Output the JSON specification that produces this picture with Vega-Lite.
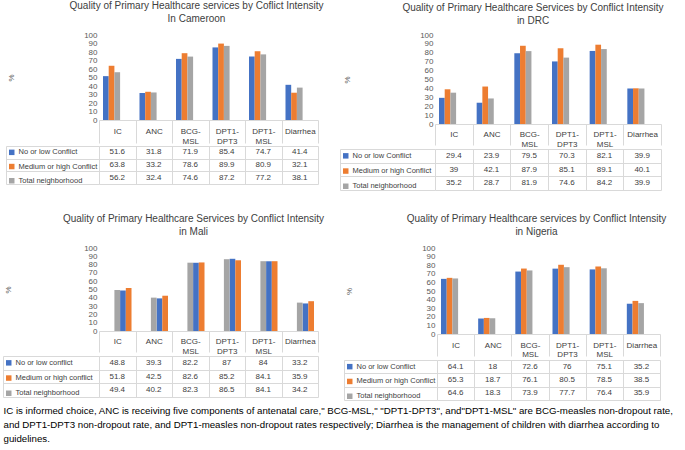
{
  "$schema": "https://vega.github.io/schema/vega-lite/v6.json",
  "background": "white",
  "padding": {"left": 2, "top": 1, "right": 0, "bottom": 0},
  "config": {
    "view": {"stroke": null},
    "font": "Liberation Sans Narrow, Liberation Sans, Arial, sans-serif",
    "title": {"fontWeight": "normal", "color": "#404040"}
  },
  "datasets": {
    "d": [
      {"country": "Cameroon", "category": "IC", "series": "No or low Conflict", "value": 51.6},
      {"country": "Cameroon", "category": "ANC", "series": "No or low Conflict", "value": 31.8},
      {"country": "Cameroon", "category": "BCG-MSL", "series": "No or low Conflict", "value": 71.9},
      {"country": "Cameroon", "category": "DPT1-DPT3", "series": "No or low Conflict", "value": 85.4},
      {"country": "Cameroon", "category": "DPT1-MSL", "series": "No or low Conflict", "value": 74.7},
      {"country": "Cameroon", "category": "Diarrhea", "series": "No or low Conflict", "value": 41.4},
      {"country": "Cameroon", "category": "IC", "series": "Medium or high Conflict", "value": 63.8},
      {"country": "Cameroon", "category": "ANC", "series": "Medium or high Conflict", "value": 33.2},
      {"country": "Cameroon", "category": "BCG-MSL", "series": "Medium or high Conflict", "value": 78.6},
      {"country": "Cameroon", "category": "DPT1-DPT3", "series": "Medium or high Conflict", "value": 89.9},
      {"country": "Cameroon", "category": "DPT1-MSL", "series": "Medium or high Conflict", "value": 80.9},
      {"country": "Cameroon", "category": "Diarrhea", "series": "Medium or high Conflict", "value": 32.1},
      {"country": "Cameroon", "category": "IC", "series": "Total neighborhood", "value": 56.2},
      {"country": "Cameroon", "category": "ANC", "series": "Total neighborhood", "value": 32.4},
      {"country": "Cameroon", "category": "BCG-MSL", "series": "Total neighborhood", "value": 74.6},
      {"country": "Cameroon", "category": "DPT1-DPT3", "series": "Total neighborhood", "value": 87.2},
      {"country": "Cameroon", "category": "DPT1-MSL", "series": "Total neighborhood", "value": 77.2},
      {"country": "Cameroon", "category": "Diarrhea", "series": "Total neighborhood", "value": 38.1},
      {"country": "DRC", "category": "IC", "series": "No or low Conflict", "value": 29.4},
      {"country": "DRC", "category": "ANC", "series": "No or low Conflict", "value": 23.9},
      {"country": "DRC", "category": "BCG-MSL", "series": "No or low Conflict", "value": 79.5},
      {"country": "DRC", "category": "DPT1-DPT3", "series": "No or low Conflict", "value": 70.3},
      {"country": "DRC", "category": "DPT1-MSL", "series": "No or low Conflict", "value": 82.1},
      {"country": "DRC", "category": "Diarrhea", "series": "No or low Conflict", "value": 39.9},
      {"country": "DRC", "category": "IC", "series": "Medium or high Conflict", "value": 39},
      {"country": "DRC", "category": "ANC", "series": "Medium or high Conflict", "value": 42.1},
      {"country": "DRC", "category": "BCG-MSL", "series": "Medium or high Conflict", "value": 87.9},
      {"country": "DRC", "category": "DPT1-DPT3", "series": "Medium or high Conflict", "value": 85.1},
      {"country": "DRC", "category": "DPT1-MSL", "series": "Medium or high Conflict", "value": 89.1},
      {"country": "DRC", "category": "Diarrhea", "series": "Medium or high Conflict", "value": 40.1},
      {"country": "DRC", "category": "IC", "series": "Total neighborhood", "value": 35.2},
      {"country": "DRC", "category": "ANC", "series": "Total neighborhood", "value": 28.7},
      {"country": "DRC", "category": "BCG-MSL", "series": "Total neighborhood", "value": 81.9},
      {"country": "DRC", "category": "DPT1-DPT3", "series": "Total neighborhood", "value": 74.6},
      {"country": "DRC", "category": "DPT1-MSL", "series": "Total neighborhood", "value": 84.2},
      {"country": "DRC", "category": "Diarrhea", "series": "Total neighborhood", "value": 39.9},
      {"country": "Mali", "category": "IC", "series": "No or low conflict", "value": 48.8},
      {"country": "Mali", "category": "ANC", "series": "No or low conflict", "value": 39.3},
      {"country": "Mali", "category": "BCG-MSL", "series": "No or low conflict", "value": 82.2},
      {"country": "Mali", "category": "DPT1-DPT3", "series": "No or low conflict", "value": 87},
      {"country": "Mali", "category": "DPT1-MSL", "series": "No or low conflict", "value": 84},
      {"country": "Mali", "category": "Diarrhea", "series": "No or low conflict", "value": 33.2},
      {"country": "Mali", "category": "IC", "series": "Medium or high conflict", "value": 51.8},
      {"country": "Mali", "category": "ANC", "series": "Medium or high conflict", "value": 42.5},
      {"country": "Mali", "category": "BCG-MSL", "series": "Medium or high conflict", "value": 82.6},
      {"country": "Mali", "category": "DPT1-DPT3", "series": "Medium or high conflict", "value": 85.2},
      {"country": "Mali", "category": "DPT1-MSL", "series": "Medium or high conflict", "value": 84.1},
      {"country": "Mali", "category": "Diarrhea", "series": "Medium or high conflict", "value": 35.9},
      {"country": "Mali", "category": "IC", "series": "Total neighborhood", "value": 49.4},
      {"country": "Mali", "category": "ANC", "series": "Total neighborhood", "value": 40.2},
      {"country": "Mali", "category": "BCG-MSL", "series": "Total neighborhood", "value": 82.3},
      {"country": "Mali", "category": "DPT1-DPT3", "series": "Total neighborhood", "value": 86.5},
      {"country": "Mali", "category": "DPT1-MSL", "series": "Total neighborhood", "value": 84.1},
      {"country": "Mali", "category": "Diarrhea", "series": "Total neighborhood", "value": 34.2},
      {"country": "Nigeria", "category": "IC", "series": "No or low Conflict", "value": 64.1},
      {"country": "Nigeria", "category": "ANC", "series": "No or low Conflict", "value": 18},
      {"country": "Nigeria", "category": "BCG-MSL", "series": "No or low Conflict", "value": 72.6},
      {"country": "Nigeria", "category": "DPT1-DPT3", "series": "No or low Conflict", "value": 76},
      {"country": "Nigeria", "category": "DPT1-MSL", "series": "No or low Conflict", "value": 75.1},
      {"country": "Nigeria", "category": "Diarrhea", "series": "No or low Conflict", "value": 35.2},
      {"country": "Nigeria", "category": "IC", "series": "Medium or high Conflict", "value": 65.3},
      {"country": "Nigeria", "category": "ANC", "series": "Medium or high Conflict", "value": 18.7},
      {"country": "Nigeria", "category": "BCG-MSL", "series": "Medium or high Conflict", "value": 76.1},
      {"country": "Nigeria", "category": "DPT1-DPT3", "series": "Medium or high Conflict", "value": 80.5},
      {"country": "Nigeria", "category": "DPT1-MSL", "series": "Medium or high Conflict", "value": 78.5},
      {"country": "Nigeria", "category": "Diarrhea", "series": "Medium or high Conflict", "value": 38.5},
      {"country": "Nigeria", "category": "IC", "series": "Total neighborhood", "value": 64.6},
      {"country": "Nigeria", "category": "ANC", "series": "Total neighborhood", "value": 18.3},
      {"country": "Nigeria", "category": "BCG-MSL", "series": "Total neighborhood", "value": 73.9},
      {"country": "Nigeria", "category": "DPT1-DPT3", "series": "Total neighborhood", "value": 77.7},
      {"country": "Nigeria", "category": "DPT1-MSL", "series": "Total neighborhood", "value": 76.4},
      {"country": "Nigeria", "category": "Diarrhea", "series": "Total neighborhood", "value": 35.9}
    ]
  },
  "title": {
    "text": [
      "IC is informed choice, ANC is receiving five components of antenatal care,\" BCG-MSL,\" \"DPT1-DPT3\", and\"DPT1-MSL\" are BCG-measles non-dropout rate,",
      "and DPT1-DPT3 non-dropout rate,  and DPT1-measles non-dropout rates respectively; Diarrhea is the management of children with diarrhea according to",
      "guidelines."
    ],
    "orient": "bottom", "anchor": "start", "fontSize": 9.7, "lineHeight": 14, "offset": 5, "dx": 1, "color": "#000000"
  },
  "spacing": 23,
  "resolve": {"scale": {"color": "independent"}},
  "vconcat": [
    {
      "hconcat": [
        {
          "spacing": 0,
          "resolve": {"scale": {"color": "independent"}},
          "vconcat": [
            {
              "width": 219, "height": 85,
              "data": {"name": "d"},
              "transform": [{"filter": "datum.country == 'Cameroon'"}],
              "title": {"text": ["Quality of Primary  Healthcare services by Coflict Intensity", "In Cameroon"], "frame": "group", "anchor": "middle", "dx": -12, "fontSize": 10, "lineHeight": 13, "offset": 7},
              "mark": {"type": "bar"},
              "encoding": {
                "x": {"field": "category", "type": "nominal", "sort": null, "scale": {"paddingInner": 0, "paddingOuter": 0},
                  "axis": {"title": null, "labelAngle": 0, "tickBand": "extent", "tickSize": 23, "tickColor": "#d9d9d9", "domainColor": "#d9d9d9", "labelPadding": -11.5, "labelBaseline": "middle", "labelFontSize": 8, "labelColor": "#404040", "labelLineHeight": 9.5, "labelOverlap": false, "labelExpr": "indexof(datum.label,'-') > 0 ? [substring(datum.label,0,indexof(datum.label,'-')+1), substring(datum.label,indexof(datum.label,'-')+1)] : datum.label"}},
                "xOffset": {"field": "series", "sort": null, "scale": {"paddingInner": 0, "paddingOuter": 0.7}},
                "y": {"field": "value", "type": "quantitative", "scale": {"domain": [0, 100], "nice": false},
                  "axis": {"title": "%", "titleFontSize": 8, "titleFontWeight": "normal", "titleColor": "#595959", "titlePadding": 68, "values": [0,10,20,30,40,50,60,70,80,90,100], "domain": false, "ticks": false, "grid": false, "labelPadding": 2, "labelFontSize": 8, "labelColor": "#595959"}},
                "color": {"field": "series", "sort": null, "scale": {"range": ["#4472C4", "#ED7D31", "#A5A5A5"]}, "legend": null}
              }
            },
            {
              "width": 219, "height": 38,
              "data": {"name": "d"},
              "transform": [{"filter": "datum.country == 'Cameroon'"}],
              "encoding": {
                "x": {"field": "category", "type": "nominal", "sort": null, "scale": {"paddingInner": 0, "paddingOuter": 0},
                  "axis": {"title": null, "tickBand": "extent", "grid": true, "gridColor": "#d9d9d9", "labels": false, "ticks": false, "domain": false}},
                "y": {"field": "series", "type": "nominal", "sort": null, "scale": {"paddingInner": 0, "paddingOuter": 0},
                  "axis": {"title": null, "tickBand": "extent", "grid": true, "gridColor": "#d9d9d9", "labels": false, "ticks": true, "tickSize": -93, "tickColor": "#d9d9d9", "domain": true, "domainColor": "#d9d9d9", "offset": 93}}
              },
              "layer": [
                {"mark": {"type": "text", "fontSize": 8, "color": "#404040"}, "encoding": {"text": {"field": "value", "type": "quantitative"}}},
                {"mark": {"type": "square", "opacity": 0}, "encoding": {"color": {"field": "series", "sort": null, "scale": {"range": ["#4472C4", "#ED7D31", "#A5A5A5"]},
                  "legend": {"orient": "none", "legendX": -91, "legendY": 2.6, "title": null, "symbolType": "square", "symbolSize": 30, "symbolOpacity": 1, "symbolStrokeWidth": 0, "labelFontSize": 7.5, "labelColor": "#404040", "rowPadding": 5.2, "labelOffset": 3, "padding": 0, "labelLimit": 200}}}}
              ]
            }
          ]
        },
        {
          "spacing": 0,
          "resolve": {"scale": {"color": "independent"}},
          "vconcat": [
            {
              "width": 226, "height": 89,
              "data": {"name": "d"},
              "transform": [{"filter": "datum.country == 'DRC'"}],
              "title": {"text": ["Quality of Primary  Healthcare Services by Conflict Intensity", "in DRC"], "frame": "group", "anchor": "middle", "dx": -15, "fontSize": 10, "lineHeight": 13, "offset": 5},
              "mark": {"type": "bar"},
              "encoding": {
                "x": {"field": "category", "type": "nominal", "sort": null, "scale": {"paddingInner": 0, "paddingOuter": 0},
                  "axis": {"title": null, "labelAngle": 0, "tickBand": "extent", "tickSize": 21, "tickColor": "#d9d9d9", "domainColor": "#d9d9d9", "labelPadding": -10.5, "labelBaseline": "middle", "labelFontSize": 8, "labelColor": "#404040", "labelLineHeight": 9.5, "labelOverlap": false, "labelExpr": "indexof(datum.label,'-') > 0 ? [substring(datum.label,0,indexof(datum.label,'-')+1), substring(datum.label,indexof(datum.label,'-')+1)] : datum.label"}},
                "xOffset": {"field": "series", "sort": null, "scale": {"paddingInner": 0, "paddingOuter": 0.7}},
                "y": {"field": "value", "type": "quantitative", "scale": {"domain": [0, 100], "nice": false},
                  "axis": {"title": "%", "titleFontSize": 8, "titleFontWeight": "normal", "titleColor": "#595959", "titlePadding": 68, "values": [0,10,20,30,40,50,60,70,80,90,100], "domain": false, "ticks": false, "grid": false, "labelPadding": 2, "labelFontSize": 8, "labelColor": "#595959"}},
                "color": {"field": "series", "sort": null, "scale": {"range": ["#4472C4", "#ED7D31", "#A5A5A5"]}, "legend": null}
              }
            },
            {
              "width": 226, "height": 41,
              "data": {"name": "d"},
              "transform": [{"filter": "datum.country == 'DRC'"}],
              "encoding": {
                "x": {"field": "category", "type": "nominal", "sort": null, "scale": {"paddingInner": 0, "paddingOuter": 0},
                  "axis": {"title": null, "tickBand": "extent", "grid": true, "gridColor": "#d9d9d9", "labels": false, "ticks": false, "domain": false}},
                "y": {"field": "series", "type": "nominal", "sort": null, "scale": {"paddingInner": 0, "paddingOuter": 0},
                  "axis": {"title": null, "tickBand": "extent", "grid": true, "gridColor": "#d9d9d9", "labels": false, "ticks": true, "tickSize": -95, "tickColor": "#d9d9d9", "domain": true, "domainColor": "#d9d9d9", "offset": 95}}
              },
              "layer": [
                {"mark": {"type": "text", "fontSize": 8, "color": "#404040"}, "encoding": {"text": {"field": "value", "type": "quantitative"}}},
                {"mark": {"type": "square", "opacity": 0}, "encoding": {"color": {"field": "series", "sort": null, "scale": {"range": ["#4472C4", "#ED7D31", "#A5A5A5"]},
                  "legend": {"orient": "none", "legendX": -93, "legendY": 3.1, "title": null, "symbolType": "square", "symbolSize": 30, "symbolOpacity": 1, "symbolStrokeWidth": 0, "labelFontSize": 7.5, "labelColor": "#404040", "rowPadding": 6.2, "labelOffset": 3, "padding": 0, "labelLimit": 200}}}}
              ]
            }
          ]
        }
      ],
      "spacing": 14,
      "resolve": {"scale": {"color": "independent"}}
    },
    {
      "hconcat": [
        {
          "spacing": 0,
          "resolve": {"scale": {"color": "independent"}},
          "vconcat": [
            {
              "width": 219, "height": 83,
              "data": {"name": "d"},
              "transform": [{"filter": "datum.country == 'Mali'"}],
              "title": {"text": ["Quality of Primary  Healthcare Services by Conflict Intensity", "in Mali"], "frame": "group", "anchor": "middle", "dx": -15, "fontSize": 10, "lineHeight": 13, "offset": 7},
              "mark": {"type": "bar"},
              "encoding": {
                "x": {"field": "category", "type": "nominal", "sort": null, "scale": {"paddingInner": 0, "paddingOuter": 0},
                  "axis": {"title": null, "labelAngle": 0, "tickBand": "extent", "tickSize": 21, "tickColor": "#d9d9d9", "domainColor": "#d9d9d9", "labelPadding": -10.5, "labelBaseline": "middle", "labelFontSize": 8, "labelColor": "#404040", "labelLineHeight": 9.5, "labelOverlap": false, "labelExpr": "indexof(datum.label,'-') > 0 ? [substring(datum.label,0,indexof(datum.label,'-')+1), substring(datum.label,indexof(datum.label,'-')+1)] : datum.label"}},
                "xOffset": {"field": "series", "sort": null, "scale": {"paddingInner": 0, "paddingOuter": 0.7}},
                "y": {"field": "value", "type": "quantitative", "scale": {"domain": [0, 100], "nice": false},
                  "axis": {"title": "%", "titleFontSize": 8, "titleFontWeight": "normal", "titleColor": "#595959", "titlePadding": 71, "values": [0,10,20,30,40,50,60,70,80,90,100], "domain": false, "ticks": false, "grid": false, "labelPadding": 2, "labelFontSize": 8, "labelColor": "#595959"}},
                "color": {"field": "series", "sort": null, "scale": {"range": ["#4472C4", "#ED7D31", "#A5A5A5"]}, "legend": null}
              }
            },
            {
              "width": 219, "height": 41,
              "data": {"name": "d"},
              "transform": [{"filter": "datum.country == 'Mali'"}],
              "encoding": {
                "x": {"field": "category", "type": "nominal", "sort": null, "scale": {"paddingInner": 0, "paddingOuter": 0},
                  "axis": {"title": null, "tickBand": "extent", "grid": true, "gridColor": "#d9d9d9", "labels": false, "ticks": false, "domain": false}},
                "y": {"field": "series", "type": "nominal", "sort": null, "scale": {"paddingInner": 0, "paddingOuter": 0},
                  "axis": {"title": null, "tickBand": "extent", "grid": true, "gridColor": "#d9d9d9", "labels": false, "ticks": true, "tickSize": -96, "tickColor": "#d9d9d9", "domain": true, "domainColor": "#d9d9d9", "offset": 96}}
              },
              "layer": [
                {"mark": {"type": "text", "fontSize": 8, "color": "#404040"}, "encoding": {"text": {"field": "value", "type": "quantitative"}}},
                {"mark": {"type": "square", "opacity": 0}, "encoding": {"color": {"field": "series", "sort": null, "scale": {"range": ["#4472C4", "#ED7D31", "#A5A5A5"]},
                  "legend": {"orient": "none", "legendX": -94, "legendY": 3.1, "title": null, "symbolType": "square", "symbolSize": 30, "symbolOpacity": 1, "symbolStrokeWidth": 0, "labelFontSize": 7.5, "labelColor": "#404040", "rowPadding": 6.2, "labelOffset": 3, "padding": 0, "labelLimit": 200}}}}
              ]
            }
          ]
        },
        {
          "spacing": 0,
          "resolve": {"scale": {"color": "independent"}},
          "vconcat": [
            {
              "width": 223, "height": 86,
              "data": {"name": "d"},
              "transform": [{"filter": "datum.country == 'Nigeria'"}],
              "title": {"text": ["Quality of Primary  Healthcare services by Conflict Intensity", "in Nigeria"], "frame": "group", "anchor": "middle", "dx": -12, "fontSize": 10, "lineHeight": 13, "offset": 7},
              "mark": {"type": "bar"},
              "encoding": {
                "x": {"field": "category", "type": "nominal", "sort": null, "scale": {"paddingInner": 0, "paddingOuter": 0},
                  "axis": {"title": null, "labelAngle": 0, "tickBand": "extent", "tickSize": 22, "tickColor": "#d9d9d9", "domainColor": "#d9d9d9", "labelPadding": -11, "labelBaseline": "middle", "labelFontSize": 8, "labelColor": "#404040", "labelLineHeight": 9.5, "labelOverlap": false, "labelExpr": "indexof(datum.label,'-') > 0 ? [substring(datum.label,0,indexof(datum.label,'-')+1), substring(datum.label,indexof(datum.label,'-')+1)] : datum.label"}},
                "xOffset": {"field": "series", "sort": null, "scale": {"paddingInner": 0, "paddingOuter": 0.72}},
                "y": {"field": "value", "type": "quantitative", "scale": {"domain": [0, 100], "nice": false},
                  "axis": {"title": "%", "titleFontSize": 8, "titleFontWeight": "normal", "titleColor": "#595959", "titlePadding": 68, "values": [0,10,20,30,40,50,60,70,80,90,100], "domain": false, "ticks": false, "grid": false, "labelPadding": 2, "labelFontSize": 8, "labelColor": "#595959"}},
                "color": {"field": "series", "sort": null, "scale": {"range": ["#4472C4", "#ED7D31", "#A5A5A5"]}, "legend": null}
              }
            },
            {
              "width": 223, "height": 40,
              "data": {"name": "d"},
              "transform": [{"filter": "datum.country == 'Nigeria'"}],
              "encoding": {
                "x": {"field": "category", "type": "nominal", "sort": null, "scale": {"paddingInner": 0, "paddingOuter": 0},
                  "axis": {"title": null, "tickBand": "extent", "grid": true, "gridColor": "#d9d9d9", "labels": false, "ticks": false, "domain": false}},
                "y": {"field": "series", "type": "nominal", "sort": null, "scale": {"paddingInner": 0, "paddingOuter": 0},
                  "axis": {"title": null, "tickBand": "extent", "grid": true, "gridColor": "#d9d9d9", "labels": false, "ticks": true, "tickSize": -93, "tickColor": "#d9d9d9", "domain": true, "domainColor": "#d9d9d9", "offset": 93}}
              },
              "layer": [
                {"mark": {"type": "text", "fontSize": 8, "color": "#404040"}, "encoding": {"text": {"field": "value", "type": "quantitative"}}},
                {"mark": {"type": "square", "opacity": 0}, "encoding": {"color": {"field": "series", "sort": null, "scale": {"range": ["#4472C4", "#ED7D31", "#A5A5A5"]},
                  "legend": {"orient": "none", "legendX": -91, "legendY": 2.9, "title": null, "symbolType": "square", "symbolSize": 30, "symbolOpacity": 1, "symbolStrokeWidth": 0, "labelFontSize": 7.5, "labelColor": "#404040", "rowPadding": 5.8, "labelOffset": 3, "padding": 0, "labelLimit": 200}}}}
              ]
            }
          ]
        }
      ],
      "spacing": 17,
      "resolve": {"scale": {"color": "independent"}}
    }
  ]
}
